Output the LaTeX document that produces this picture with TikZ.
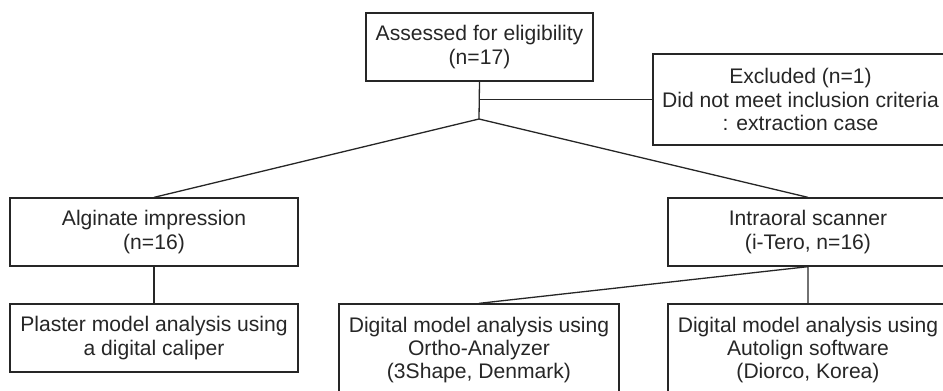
\documentclass[tikz,border=0pt]{standalone}
\usepackage{fontspec}
\setmainfont{Liberation Sans}
\begin{document}
\begin{tikzpicture}[x=0.5pt, y=-0.5pt,
        box/.style = {draw=black!85, line width=0.65pt, align=center, inner sep=0pt,
            text=black!85, font=\fontsize{10.55}{11.6}\selectfont},
        link/.style = {draw=black!85, line width=0.65pt}]
        \useasboundingbox (0,0) rectangle (943,391);
        \clip (0,0) rectangle (943,391);
        % top row
        \node[box, minimum width=113.5pt, minimum height=34pt] (assess) at (479.5,47) {Assessed for eligibility\\(n=17)};
        \node[box, minimum width=147.5pt, minimum height=45.5pt] (excl) at (800.5,99.5) {Excluded (n=1)\\Did not meet inclusion criteria\\: extraction case};
        % middle row
        \node[box, minimum width=144pt, minimum height=34pt] (algin) at (154,232) {Alginate impression\\(n=16)};
        \node[box, minimum width=140pt, minimum height=34pt] (intra) at (808,232) {Intraoral scanner\\(i-Tero, n=16)};
        % bottom row
        \node[box, minimum width=144pt, minimum height=34pt] (plaster) at (154,338) {Plaster model analysis using\\a digital caliper};
        \node[box, minimum width=140pt, minimum height=46pt] (ortho) at (479,350) {Digital model analysis using\\Ortho-Analyzer\\(3Shape, Denmark)};
        \node[box, minimum width=140pt, minimum height=46pt] (autolign) at (808,350) {Digital model analysis using\\Autolign software\\(Diorco, Korea)};
        \coordinate (split) at (479,119);
		\draw[link] (assess.south) -- (split);
        \draw[link] (excl.west -| assess.south) -- (excl.west);
        \draw[link] (algin.north) -- (split) -- (intra.north);
        \draw[link] (algin.south) -- (plaster.north);
        \draw[link] (ortho.north) -- (intra.south) -- (autolign.north);
	\end{tikzpicture}
\end{document}
